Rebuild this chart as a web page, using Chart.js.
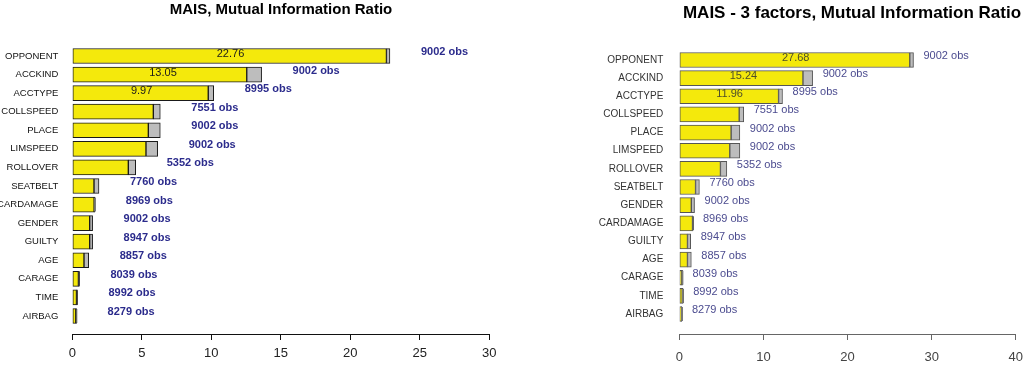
<!DOCTYPE html>
<html>
<head>
<meta charset="utf-8">
<script src="https://cdn.jsdelivr.net/npm/chart.js@4/dist/chart.umd.min.js"></script>
<style>
  html, body { margin: 0; padding: 0; background: #fff; }
  #wrap { position: relative; width: 1033px; height: 367px; }
  canvas { position: absolute; top: 0; }
  #left { left: 0; }
  #right { left: 520px; }
</style>
</head>
<body>
<div id="wrap">
  <canvas id="left" width="520" height="367"></canvas>
  <canvas id="right" width="513" height="367"></canvas>
</div>
<script>
// Left panel: MAIS
const leftCategories = ['OPPONENT', 'ACCKIND', 'ACCTYPE', 'COLLSPEED', 'PLACE', 'LIMSPEED', 'ROLLOVER',
  'SEATBELT', 'CARDAMAGE', 'GENDER', 'GUILTY', 'AGE', 'CARAGE', 'TIME', 'AIRBAG'];
const leftValue = [22.76, 13.05, 9.97, 6.05, 5.9, 5.71, 4.22, 1.73, 1.6, 1.38, 1.38, 1.0, 0.47, 0.33, 0.28];
const leftLow   = [22.6, 12.55, 9.78, 5.83, 5.47, 5.3, 4.03, 1.56, 1.57, 1.25, 1.25, 0.84, 0.44, 0.3, 0.25];
const leftHigh  = [22.85, 13.62, 10.17, 6.33, 6.33, 6.14, 4.56, 1.92, 1.62, 1.46, 1.46, 1.18, 0.51, 0.37, 0.31];
const leftObs   = [9002, 9002, 8995, 7551, 9002, 9002, 5352, 7760, 8969, 9002, 8947, 8857, 8039, 8992, 8279];
const leftTicks = [0, 5, 10, 15, 20, 25, 30];

// Right panel: MAIS - 3 factors
const rightCategories = ['OPPONENT', 'ACCKIND', 'ACCTYPE', 'COLLSPEED', 'PLACE', 'LIMSPEED', 'ROLLOVER',
  'SEATBELT', 'GENDER', 'CARDAMAGE', 'GUILTY', 'AGE', 'CARAGE', 'TIME', 'AIRBAG'];
const rightValue = [27.68, 15.24, 11.96, 7.4, 6.62, 6.55, 5.2, 2.15, 1.65, 1.6, 1.15, 1.2, 0.35, 0.4, 0.28];
const rightLow   = [27.4, 14.7, 11.8, 7.12, 6.16, 6.0, 4.89, 1.93, 1.43, 1.57, 0.97, 0.97, 0.3, 0.35, 0.24];
const rightHigh  = [27.84, 15.85, 12.27, 7.66, 7.2, 7.2, 5.65, 2.39, 1.81, 1.62, 1.35, 1.43, 0.39, 0.46, 0.31];
const rightObs   = [9002, 9002, 8995, 7551, 9002, 9002, 5352, 7760, 9002, 8969, 8947, 8857, 8039, 8992, 8279];
const rightTicks = [0, 10, 20, 30, 40];

const FONT = '"Liberation Sans", Arial, sans-serif';
const YELLOW = '#f4e90c';
const GREY = '#bdbdbd';

// текст поверх: заголовок, подписи "obs" и значения в первых трёх полосах
const labelsPlugin = {
  id: 'labels',
  afterDraw(chart) {
    const o = chart.options.plugins.labels;
    const ctx = chart.ctx;
    const xs = chart.scales.x, ys = chart.scales.y;
    ctx.save();
    ctx.textBaseline = 'middle';

    ctx.font = o.titleFont;
    ctx.fillStyle = '#000';
    ctx.textAlign = 'center';
    ctx.fillText(o.title, o.titleX, o.titleY);

    ctx.font = o.obsFont;
    ctx.fillStyle = o.obsColor;
    ctx.textAlign = 'left';
    o.obs.forEach((n, i) => {
      ctx.fillText(n + ' obs', xs.getPixelForValue(o.high[i]) + o.obsGap, ys.getPixelForValue(i) - o.obsLift);
    });

    ctx.font = '11px ' + FONT;
    ctx.fillStyle = o.valueColor;
    ctx.textAlign = 'center';
    for (let i = 0; i < 3; i++) {
      ctx.fillText(o.value[i].toFixed(2), xs.getPixelForValue(o.value[i] / 2), ys.getPixelForValue(i) - 2);
    }
    ctx.restore();
  }
};

function makeChart(id, p) {
  return new Chart(document.getElementById(id), {
    type: 'bar',
    data: {
      datasets: [
        {
          data: p.low.map((v, i) => ({ x: [0, v], y: i })),
          backgroundColor: YELLOW, borderColor: p.edge, borderWidth: 1,
          borderSkipped: false, barThickness: 15, grouped: false
        },
        {
          data: p.low.map((v, i) => ({ x: [v, p.high[i]], y: i })),
          backgroundColor: GREY, borderColor: p.edge, borderWidth: 1,
          borderSkipped: false, barThickness: 15, grouped: false
        },
        {
          type: 'scatter',
          data: p.value.map((v, i) => ({ x: v, y: i })),
          pointStyle: 'line', rotation: 90, pointRadius: 7, pointBorderWidth: 2,
          pointBorderColor: p.mark, borderColor: p.mark
        }
      ]
    },
    options: {
      responsive: false,
      animation: false,
      events: [],
      indexAxis: 'y',
      layout: { padding: { left: 0, right: p.padRight, top: p.padTop, bottom: 0 } },
      scales: {
        x: {
          type: 'linear', min: 0, max: p.ticks[p.ticks.length - 1],
          afterBuildTicks: s => { s.ticks = p.ticks.map(v => ({ value: v })); },
          afterFit: s => { s.height = 33; },
          grid: { drawOnChartArea: false, drawTicks: true, tickLength: 6, color: p.axis },
          border: { display: true, color: p.axis, width: 1 },
          ticks: { font: { family: FONT, size: 13 }, color: p.tickColor, padding: p.tickPad, maxRotation: 0 }
        },
        y: {
          type: 'linear', reverse: true, offset: false, bounds: 'data', min: -0.5, max: p.yMax,
          afterBuildTicks: s => { s.ticks = p.categories.map((c, i) => ({ value: i })); },
          afterFit: s => { s.width = p.yWidth; },
          grid: { display: false, drawTicks: false, tickLength: 0 },
          border: { display: false },
          ticks: {
            autoSkip: false, padding: p.catPad, color: p.catColor,
            font: { family: FONT, size: p.catSize },
            callback: v => p.categories[v]
          }
        }
      },
      plugins: {
        legend: { display: false },
        tooltip: { enabled: false },
        labels: {
          title: p.title, titleX: p.titleX, titleY: p.titleY, titleFont: p.titleFont,
          obs: p.obs, high: p.high, value: p.value,
          obsGap: p.obsGap, obsLift: 4, obsFont: p.obsFont, obsColor: p.obsColor,
          valueColor: p.valueColor
        }
      }
    },
    plugins: [labelsPlugin]
  });
}

makeChart('left', {
  categories: leftCategories, value: leftValue, low: leftLow, high: leftHigh, obs: leftObs, ticks: leftTicks,
  edge: '#1a1a1a', mark: '#111', axis: '#111', tickColor: '#222', tickPad: 6,
  padRight: 30.7, padTop: 46.7, yMax: 14.97, yWidth: 72.3, catPad: 14, catSize: 9.5, catColor: '#111',
  title: 'MAIS, Mutual Information Ratio', titleX: 281, titleY: 10, titleFont: 'bold 15px ' + FONT,
  obsGap: 31, obsFont: 'bold 11px ' + FONT, obsColor: '#2b2b8c', valueColor: '#1a1a1a'
});

makeChart('right', {
  categories: rightCategories, value: rightValue, low: rightLow, high: rightHigh, obs: rightObs, ticks: rightTicks,
  edge: '#555', mark: '#333', axis: '#666', tickColor: '#444', tickPad: 10,
  padRight: 6.5, padTop: 50.9, yMax: 15.1, yWidth: 159.3, catPad: 16, catSize: 10, catColor: '#333',
  title: 'MAIS - 3 factors, Mutual Information Ratio', titleX: 332, titleY: 13, titleFont: 'bold 17px ' + FONT,
  obsGap: 10, obsFont: '11px ' + FONT, obsColor: '#4b4b8f', valueColor: '#4d4d2a'
});
</script>
</body>
</html>
